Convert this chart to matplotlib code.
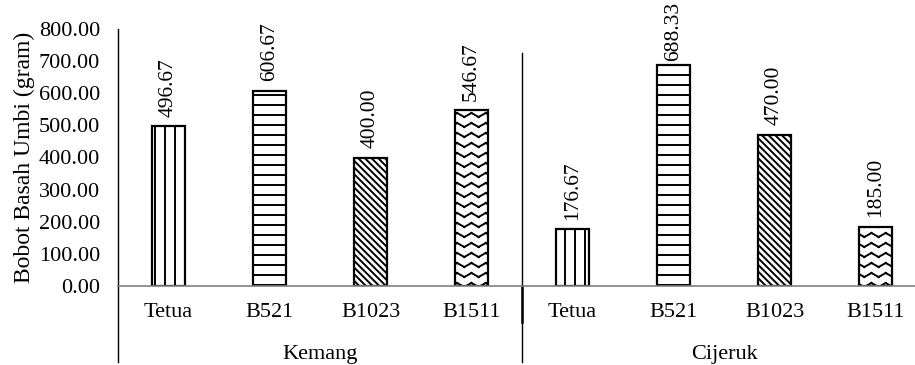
import numpy as np
import matplotlib
matplotlib.use("Agg")
import matplotlib.pyplot as plt
from matplotlib import hatch as mhatch
from matplotlib.path import Path

# ---------------- data ----------------
groups = ["Kemang", "Cijeruk"]
varieties = ["Tetua", "B521", "B1023", "B1511"]
kemang_values = [496.67, 606.67, 400.00, 546.67]
cijeruk_values = [176.67, 688.33, 470.00, 185.00]
y_ticks = [0, 100, 200, 300, 400, 500, 600, 700, 800]
y_label = "Bobot Basah Umbi (gram)"

# ---------------- custom hatches ----------------
class _CustomHatch(mhatch.HatchPatternBase):
    def __init__(self, hatch, density):
        self.nh = 10 if 'h' in hatch else 0
        self.nv = 10 if 'v' in hatch else 0
        self.nz = 10 if 'z' in hatch else 0
        self.zper = 7
        self.num_vertices = 2 * self.nh + 2 * self.nv + self.nz * (2 * self.zper) * 2

    def set_vertices_and_codes(self, vertices, codes):
        c = 0
        if self.nh:
            steps = (np.arange(self.nh) + 0.5) / self.nh
            for s in steps:
                vertices[c] = (0.0, s); codes[c] = Path.MOVETO; c += 1
                vertices[c] = (1.0, s); codes[c] = Path.LINETO; c += 1
        if self.nv:
            steps = (np.arange(self.nv) + 0.5) / self.nv
            for s in steps:
                vertices[c] = (s, 0.0); codes[c] = Path.MOVETO; c += 1
                vertices[c] = (s, 1.0); codes[c] = Path.LINETO; c += 1
        if self.nz:
            steps = (np.arange(self.nz) + 0.5) / self.nz
            amp = 0.02
            xs = np.linspace(0, 1, 2 * self.zper + 1)
            for s in steps:
                ys = [s + (amp if i % 2 == 0 else -amp) for i in range(len(xs))]
                for i in range(len(xs) - 1):
                    vertices[c] = (xs[i], ys[i]); codes[c] = Path.MOVETO; c += 1
                    vertices[c] = (xs[i + 1], ys[i + 1]); codes[c] = Path.LINETO; c += 1

mhatch._hatch_types.append(_CustomHatch)
mhatch._validate_hatch_pattern = lambda hatch: None

hatches = ["v", "h", "\\" * 5, "z"]

# ---------------- style ----------------
plt.rcParams['font.family'] = ['Liberation Serif', 'DejaVu Serif']
plt.rcParams['hatch.linewidth'] = 1.4
plt.rcParams['hatch.color'] = 'black'

W, H = 915, 365
fig = plt.figure(figsize=(W / 100, H / 100), dpi=100)

x0, x1 = 118, 926
y0, y1 = 286, 29
ax = fig.add_axes([x0 / W, 1 - y0 / H, (x1 - x0) / W, (y0 - y1) / H])

values = kemang_values + cijeruk_values
labels = varieties + varieties
xpos = np.arange(len(values))
annots = []
for i, v in enumerate(values):
    ax.bar(xpos[i], v, width=0.32, color='white', edgecolor='black',
           linewidth=1.6, hatch=hatches[i % 4], zorder=2)
    a = ax.annotate(f"{v:.2f}", (xpos[i], v), xytext=(0, 7), textcoords='offset points',
                    rotation=90, ha='center', va='bottom', fontsize=15.5,
                    annotation_clip=False, zorder=3)
    annots.append(a)

ax.set_xlim(-0.5, len(values) - 0.5)
ax.set_ylim(0, 800)
ax.set_yticks(y_ticks)
ax.set_yticklabels([f"{t:.2f}" for t in y_ticks], fontsize=16)
ax.tick_params(axis='y', length=0, pad=13)
ax.set_xticks(xpos)
ax.set_xticklabels(labels, fontsize=16)
ax.tick_params(axis='x', length=0, pad=12)
ax.set_ylabel(y_label, fontsize=17, labelpad=3)

for s in ['top', 'right']:
    ax.spines[s].set_visible(False)
ax.spines['bottom'].set_color('#808080')
ax.spines['bottom'].set_linewidth(1.2)
ax.spines['left'].set_color('black')
ax.spines['left'].set_linewidth(1.0)

# group separators and labels
trans = ax.get_xaxis_transform()
bottom_frac = -(362 - y0) / (y0 - y1)
ax.plot([-0.5, -0.5], [bottom_frac, 0], transform=trans, color='black', lw=1.0, clip_on=False)
sep_top = 1 - (53 - y1) / (y0 - y1)
ax.plot([3.5, 3.5], [bottom_frac, sep_top], transform=trans, color='black', lw=1.0, clip_on=False)
ax.plot([3.5, 3.5], [-(322 - y0) / (y0 - y1), 0], transform=trans, color='black', lw=1.8, clip_on=False)
for gi, g in enumerate(groups):
    ax.text(gi * 4 + 1.5, -(354 - y0) / (y0 - y1), g, transform=trans, ha='center', va='center',
            fontsize=16)

# keep value labels inside the figure (pushed down like the reference)
fig.canvas.draw()
renderer = fig.canvas.get_renderer()
for a in annots:
    bb = a.get_window_extent(renderer)
    overflow = bb.y1 - (H - 2)
    if overflow > 0:
        x, y = a.xyann
        a.xyann = (x, y - overflow * 72 / 100)

fig.savefig("out.png", dpi=100)
